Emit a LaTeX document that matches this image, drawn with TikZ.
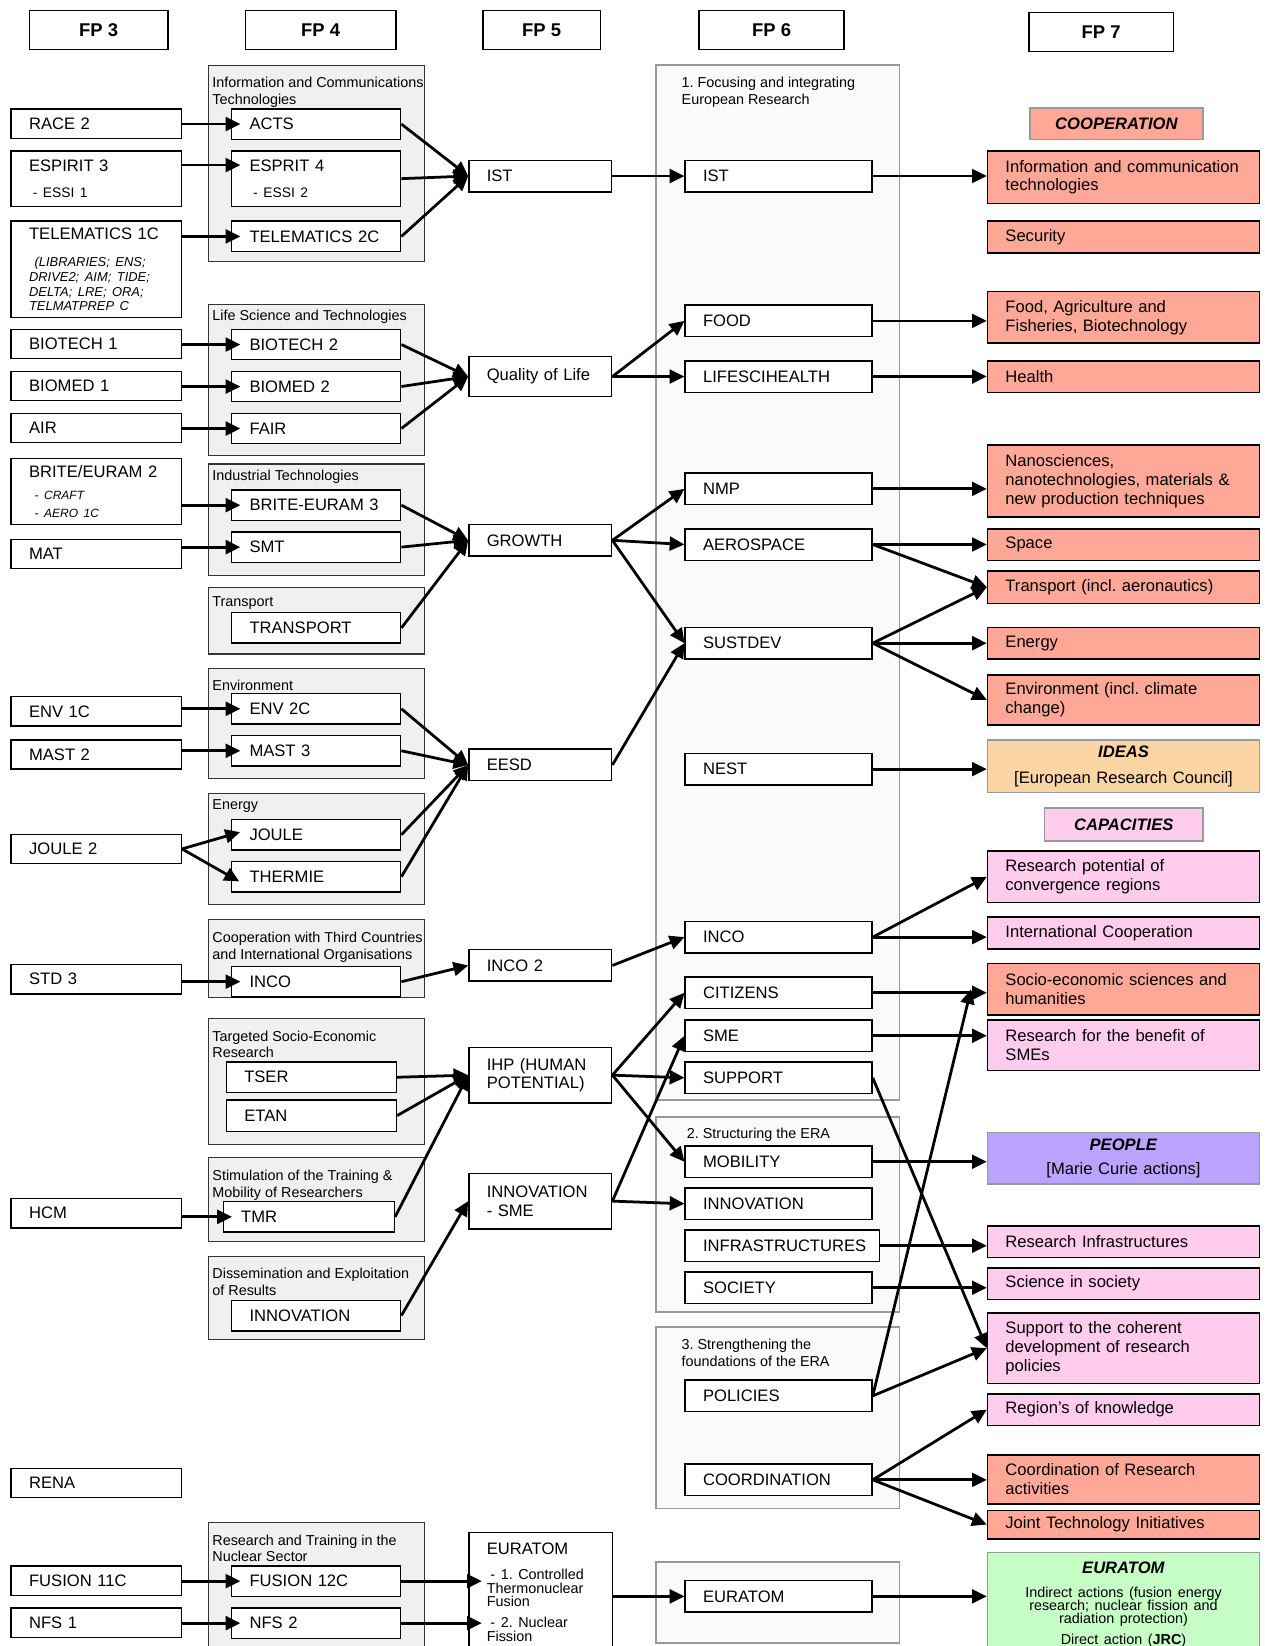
\documentclass[tikz,border=0pt]{standalone}
\usepackage{fontspec}
\setmainfont{Liberation Sans}
\usepackage{tikz}
\usetikzlibrary{arrows.meta}
\usepackage{xcolor}
\definecolor{coop}{HTML}{FFA898}
\definecolor{capa}{HTML}{FFCCEE}
\definecolor{idea}{HTML}{FCD5A4}
\definecolor{peop}{HTML}{BBA3FF}
\definecolor{eura}{HTML}{C6FEC6}
\frenchspacing

\begin{document}
\begin{tikzpicture}[x=0.02cm,y=-0.02cm,
  font=\fontsize{9}{10.2}\selectfont,
  hdr/.style={draw,line width=0.9pt,minimum height=0.74cm,font=\fontsize{10}{12}\selectfont\bfseries},
  bx/.style={draw,line width=0.8pt,fill=white,anchor=north west,align=left,inner xsep=0.34cm,inner ysep=0pt,minimum height=0.58cm},
  c3/.style={bx,text width=2.56cm,minimum height=0.56cm},
  c4/.style={bx,text width=2.54cm},
  c5/.style={bx,text width=2.04cm,minimum height=0.6cm},
  c6/.style={bx,text width=2.88cm,minimum height=0.6cm},
  c7/.style={bx,text width=4.5cm,line width=0.9pt,minimum height=0.6cm},
  grp/.style={draw=black!80,fill=black!6,line width=0.6pt},
  era/.style={draw=black!40,fill=black!2,line width=0.9pt},
  ttl/.style={anchor=north west,inner sep=0pt,align=left,font=\fontsize{7.8}{9.1}\selectfont},
  lbl/.style={draw=black!40,line width=0.9pt,font=\fontsize{9}{11}\selectfont\bfseries\itshape},
  arr/.style={line width=1.5pt,-{Triangle[length=8pt,width=7.5pt]}},
  into/.style={shorten >=-0.18cm}]
  \useasboundingbox (0,0) rectangle (1205,1568);

  % column heads
  \node[hdr,minimum width=2.64cm] (fpthree) at (94,28.5) {FP 3};
  \node[hdr,minimum width=2.86cm] (fpfour) at (305.5,28.5) {FP 4};
  \node[hdr,minimum width=2.24cm] (fpfive) at (516,28.5) {FP 5};
  \node[hdr,minimum width=2.76cm] (fpsix) at (735,28.5) {FP 6};
  \node[hdr,minimum width=2.76cm] (fpseven) at (1049,30.5) {FP 7};

  % FP 4 groups
  \draw[grp] (199,62) rectangle (404,249);
  \draw[grp] (199,290) rectangle (404,434);
  \draw[grp] (199,442) rectangle (404,548);
  \draw[grp] (199,560) rectangle (404,623);
  \draw[grp] (199,637) rectangle (404,742);
  \draw[grp] (199,756) rectangle (404,862);
  \draw[grp] (199,876) rectangle (404,950);
  \draw[grp] (199,970) rectangle (404,1090);
  \draw[grp] (199,1103) rectangle (404,1183);
  \draw[grp] (199,1197) rectangle (404,1276);
  \draw[grp] (199,1450) rectangle (404,1590);
  \node[ttl] (tict) at (202,73.5) {Information and Communications\\Technologies};
  \node[ttl] (tlife) at (202,295.5) {Life Science and Technologies};
  \node[ttl] (tind) at (202,447.5) {Industrial Technologies};
  \node[ttl] (ttrans) at (202,567.5) {Transport};
  \node[ttl] (tenv) at (202,647.5) {Environment};
  \node[ttl] (tener) at (202,761.5) {Energy};
  \node[ttl] (tinco) at (202,887.5) {Cooperation with Third Countries\\and International Organisations};
  \node[ttl] (ttser) at (202,981.5) {Targeted Socio-Economic\\Research};
  \node[ttl] (ttmr) at (202,1114.5) {Stimulation of the Training \&\\Mobility of Researchers};
  \node[ttl] (tdiss) at (202,1207.5) {Dissemination and Exploitation\\of Results};
  \node[ttl] (tnuc) at (202,1461.5) {Research and Training in the\\Nuclear Sector};

  % FP 6 groups
  \draw[era] (625,62) rectangle (857,1048);
  \draw[era] (625,1064) rectangle (857,1250);
  \draw[era] (625,1264) rectangle (857,1437);
  \draw[era] (625,1488) rectangle (857,1565);
  \node[ttl] (tfocus) at (649,73.5) {1. Focusing and integrating\\European Research};
  \node[ttl] (tstruct) at (654,1074.5) {2. Structuring the ERA};
  \node[ttl] (tstrength) at (649,1275.5) {3. Strengthening the\\foundations of the ERA};

  % FP 3
  \node[c3] (race) at (10,103) {RACE 2};
  \node[c3,minimum height=1.06cm] (espthree) at (10,143) {ESPIRIT 3\\[4.3pt]\hspace*{2pt}{\fontsize{7.5}{9}\selectfont- ESSI 1}};
  \node[c3,minimum height=1.84cm] (telone) at (10,210) {TELEMATICS 1C\\[6.8pt]{\fontsize{7}{7.9}\selectfont\itshape\hspace*{3pt}(LIBRARIES; ENS;\\DRIVE2; AIM; TIDE;\\DELTA; LRE; ORA;\\TELMATPREP C\par}};
  \node[c3] (bioone) at (10,313) {BIOTECH 1};
  \node[c3] (medone) at (10,353) {BIOMED 1};
  \node[c3] (air) at (10,393) {AIR};
  \node[c3,minimum height=1.26cm] (beone) at (10,436) {BRITE/EURAM 2\\[2.3pt]{\fontsize{6.5}{9.6}\selectfont\itshape\hspace*{3pt}- CRAFT\\\hspace*{3pt}- AERO 1C\par}};
  \node[c3] (mat) at (10,513) {MAT};
  \node[c3] (envone) at (10,663) {ENV 1C};
  \node[c3] (mastone) at (10,704) {MAST 2};
  \node[c3] (jouletwo) at (10,794) {JOULE 2};
  \node[c3] (stdthree) at (10,918) {STD 3};
  \node[c3] (hcm) at (10,1141) {HCM};
  \node[c3] (rena) at (10,1398) {RENA};
  \node[c3] (fusone) at (10,1491) {FUSION 11C};
  \node[c3] (nfsone) at (10,1531) {NFS 1};

  % FP 4
  \node[c4] (acts) at (220,103) {ACTS};
  \node[c4,minimum height=1.06cm] (espfour) at (220,143) {ESPRIT 4\\[4.3pt]\hspace*{2pt}{\fontsize{7.5}{9}\selectfont- ESSI 2}};
  \node[c4] (teltwo) at (220,210) {TELEMATICS 2C};
  \node[c4] (biotwo) at (220,313) {BIOTECH 2};
  \node[c4] (medtwo) at (220,353) {BIOMED 2};
  \node[c4] (fair) at (220,393) {FAIR};
  \node[c4] (betwo) at (220,466) {BRITE-EURAM 3};
  \node[c4] (smt) at (220,506) {SMT};
  \node[c4] (transport) at (220,583) {TRANSPORT};
  \node[c4] (envtwo) at (220,660) {ENV 2C};
  \node[c4] (masttwo) at (220,700) {MAST 3};
  \node[c4] (joule) at (220,780) {JOULE};
  \node[c4] (thermie) at (220,820) {THERMIE};
  \node[c4] (incofour) at (220,920) {INCO};
  \node[c4,text width=2.56cm] (tser) at (215,1011) {TSER};
  \node[c4,text width=2.56cm,minimum height=0.6cm] (etan) at (215,1047) {ETAN};
  \node[c4,text width=2.58cm] (tmr) at (212,1144) {TMR};
  \node[c4] (innofour) at (220,1238) {INNOVATION};
  \node[c4] (fustwo) at (220,1491) {FUSION 12C};
  \node[c4] (nfstwo) at (220,1531) {NFS 2};

  % FP 5
  \node[c5] (istfive) at (446,152) {IST};
  \node[c5,minimum height=0.76cm] (qol) at (446,339) {Quality of Life};
  \node[c5] (growth) at (446,499) {GROWTH};
  \node[c5] (eesd) at (446,713) {EESD};
  \node[c5] (incotwo) at (446,904) {INCO 2};
  \node[c5,minimum height=1.06cm] (ihp) at (446,997) {IHP (HUMAN\\POTENTIAL)};
  \node[c5,minimum height=1.06cm] (innosme) at (446,1117) {INNOVATION\\- SME};
  \node[c5,text width=2.06cm,inner ysep=0.2cm,minimum height=0pt] (eurfive) at (446,1459) {EURATOM\\[6.2pt]{\fontsize{7.8}{7.4}\selectfont\lineskiplimit=-5pt\hspace*{2pt}- 1. Controlled\\Thermonuclear\\Fusion\\[3.9pt]\hspace*{2pt}- 2. Nuclear\\Fission\par}};

  % FP 6
  \node[c6] (istsix) at (652,152) {IST};
  \node[c6] (food) at (652,290) {FOOD};
  \node[c6] (lsh) at (652,343) {LIFESCIHEALTH};
  \node[c6] (nmp) at (652,450) {NMP};
  \node[c6] (aero) at (652,503) {AEROSPACE};
  \node[c6] (sust) at (652,597) {SUSTDEV};
  \node[c6] (nest) at (652,717) {NEST};
  \node[c6] (incosix) at (652,877) {INCO};
  \node[c6] (citi) at (652,930) {CITIZENS};
  \node[c6] (sme) at (652,971) {SME};
  \node[c6] (supp) at (652,1011) {SUPPORT};
  \node[c6] (mob) at (652,1091) {MOBILITY};
  \node[c6] (innosix) at (652,1131) {INNOVATION};
  \node[c6,text width=3.02cm] (infra) at (652,1171) {INFRASTRUCTURES};
  \node[c6] (soc) at (652,1211) {SOCIETY};
  \node[c6] (pol) at (652,1314) {POLICIES};
  \node[c6] (coord) at (652,1394) {COORDINATION};
  \node[c6] (eursix) at (652,1505) {EURATOM};

  % FP 7
  \node[lbl,fill=coop,minimum width=3.3cm,minimum height=0.6cm] (coopl) at (1063.5,118) {COOPERATION};
  \node[c7,fill=coop,minimum height=1cm] (ict) at (940,143) {Information and communication\\technologies};
  \node[c7,fill=coop] (sec) at (940,210) {Security};
  \node[c7,fill=coop,minimum height=0.98cm] (foodagr) at (940,277) {Food, Agriculture and\\Fisheries, Biotechnology};
  \node[c7,fill=coop] (health) at (940,343) {Health};
  \node[c7,fill=coop,minimum height=1.38cm] (nano) at (940,423) {Nanosciences,\\nanotechnologies, materials \&\\new production techniques};
  \node[c7,fill=coop] (space) at (940,503) {Space};
  \node[c7,fill=coop,minimum height=0.62cm] (transp) at (940,543) {Transport (incl. aeronautics)};
  \node[c7,fill=coop] (energy) at (940,597) {Energy};
  \node[c7,fill=coop,minimum height=0.96cm] (envir) at (940,642) {Environment (incl. climate\\change)};
  \node[c7,fill=idea,draw=black!40,align=center,minimum height=1cm] (ideas) at (940,704) {\textbf{\textit{IDEAS}}\\[4pt][European Research Council]};
  \node[lbl,fill=capa,minimum width=3.02cm,minimum height=0.62cm] (capal) at (1070.5,785.5) {CAPACITIES};
  \node[c7,fill=capa,minimum height=0.98cm] (respot) at (940,810) {Research potential of\\convergence regions};
  \node[c7,fill=capa] (intcoop) at (940,873) {International Cooperation};
  \node[c7,fill=coop,minimum height=0.98cm] (socio) at (940,917) {Socio-economic sciences and\\humanities};
  \node[c7,fill=capa,minimum height=0.96cm] (ressme) at (940,971) {Research for the benefit of\\SMEs};
  \node[c7,fill=peop,draw=black!40,align=center,minimum height=0.98cm] (people) at (940,1078) {\textbf{\textit{PEOPLE}}\\[2.8pt][Marie Curie actions]};
  \node[c7,fill=capa] (resinf) at (940,1167) {Research Infrastructures};
  \node[c7,fill=capa] (scisoc) at (940,1207) {Science in society};
  \node[c7,fill=capa,minimum height=1.34cm] (suppcoh) at (940,1250) {Support to the coherent\\development of research\\policies};
  \node[c7,fill=capa] (regions) at (940,1327) {Region's of knowledge};
  \node[c7,fill=coop,minimum height=0.94cm] (coordres) at (940,1385) {Coordination of Research\\activities};
  \node[c7,fill=coop,minimum height=0.54cm] (jti) at (940,1438) {Joint Technology Initiatives};
  \node[c7,fill=eura,draw=black!40,align=center,inner ysep=0.18cm,minimum height=0pt] (eurseven) at (940,1478) {\textbf{\textit{EURATOM}}\\[5.8pt]{\fontsize{7.8}{7.2}\selectfont\lineskiplimit=-5pt Indirect actions (fusion energy\\research; nuclear fission and\\radiation protection)\\[4.1pt]Direct action (\textbf{JRC})\par}};

  % FP 3 -> FP 4
  \foreach \a/\b in {race/acts,telone/teltwo,bioone/biotwo,medone/medtwo,air/fair,beone/betwo,mat/smt,envone/envtwo,mastone/masttwo,stdthree/incofour,hcm/tmr,fusone/fustwo,nfsone/nfstwo}
    \draw[arr,into] (\a.east |- \b.west) -- (\b.west);
  \draw[arr,into] ([yshift=0.26cm]espthree.east) -- ([yshift=0.26cm]espfour.west);
  \draw[arr,into] (jouletwo.east) -- (joule.west);
  \draw[arr,into] (jouletwo.east) -- (thermie.west);

  % FP 4 -> FP 5
  \foreach \a/\b in {acts/istfive,espfour/istfive,teltwo/istfive,biotwo/qol,medtwo/qol,fair/qol,betwo/growth,smt/growth,transport/growth,envtwo/eesd,masttwo/eesd,joule/eesd,thermie/eesd,incofour/incotwo,tser/ihp,etan/ihp,tmr/ihp,innofour/innosme}
    \draw[arr] (\a.east) -- (\b.west);
  \foreach \a in {fustwo,nfstwo}
    \draw[arr,shorten >=-0.26cm] (\a.east) -- (\a.east -| eurfive.west);

  % FP 5 -> FP 6
  \foreach \a/\b in {istfive/istsix,qol/food,qol/lsh,growth/nmp,growth/aero,growth/sust,eesd/sust,incotwo/incosix,ihp/citi,ihp/supp,ihp/mob,innosme/sme,innosme/innosix}
    \draw[arr] (\a.east) -- (\b.west);
  \draw[arr] (eurfive.east |- eursix.west) -- (eursix.west);

  % FP 6 -> FP 7
  \foreach \a/\b in {istsix/ict,food/foodagr,lsh/health,nmp/nano,aero/space,sust/energy,nest/ideas,incosix/intcoop,citi/socio,sme/ressme,mob/people,infra/resinf,soc/scisoc,coord/coordres,eursix/eurseven}
    \draw[arr] (\a.east) -- (\a.east -| \b.west);
  \foreach \a/\b in {aero/transp,sust/transp,sust/envir,incosix/respot,supp/suppcoh,pol/suppcoh,coord/regions,coord/jti}
    \draw[arr] (\a.east) -- (\b.west);
  \draw[arr] (pol.east) -- ([xshift=-0.3cm]socio.west);
\end{tikzpicture}
\end{document}
